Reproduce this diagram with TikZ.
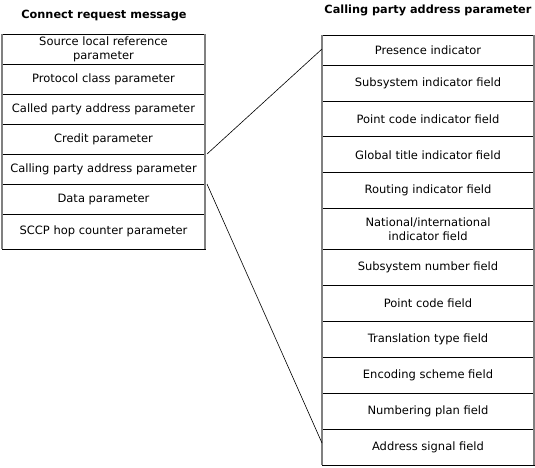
\documentclass[tikz,border=0pt]{standalone}
\usepackage{fontspec}
\setmainfont{DejaVu Sans}
\usetikzlibrary{positioning}

\begin{document}
\begin{tikzpicture}[
  x=1pt, y=-1pt,
  every node/.style={font=\fontsize{11.5}{14}\selectfont},
  cell/.style={draw=black, line width=0.7pt, minimum width=203pt,
               minimum height=30pt, inner sep=0pt, outer sep=0pt,
               align=center},
  field/.style={cell, minimum width=212pt, minimum height=35.9pt},
  heading/.style={font=\bfseries\fontsize{11.3}{13}\selectfont},
  frame/.style={draw=gray, line width=1.6pt},
  link/.style={draw=black, line width=0.6pt},
  node distance=0pt
]
\useasboundingbox (0,0) rectangle (535,467);

% connect request message
\node[heading] (msgtitle) at (104,16) {Connect request message};
\node[cell, anchor=north] (srcref) at (103.5,34)
  {Source local reference\\parameter};
\node[cell, below=of srcref] (proto) {Protocol class parameter};
\node[cell, below=of proto] (called) {Called party address parameter};
\node[cell, below=of called] (credit) {Credit parameter};
\node[cell, below=of credit] (calling) {Calling party address parameter};
\node[cell, below=of calling] (data) {Data parameter};
\node[cell, below=of data, minimum height=35pt] (hop)
  {SCCP hop counter parameter};
\draw[frame] (srcref.north west) -- (hop.south west);
\draw[frame] (srcref.north east) -- (hop.south east);

% calling party address parameter
\node[heading, anchor=east] (cgtitle) at (535,10)
  {Calling party address parameter};
\node[field, anchor=north, minimum height=30pt] (pres) at (428,35)
  {Presence indicator};
\node[field, below=of pres] (ssi) {Subsystem indicator field};
\node[field, below=of ssi] (pci) {Point code indicator field};
\node[field, below=of pci] (gti) {Global title indicator field};
\node[field, below=of gti] (route) {Routing indicator field};
\node[field, below=of route, minimum height=41pt] (natint)
  {National/international\\indicator field};
\node[field, below=of natint] (ssn) {Subsystem number field};
\node[field, below=of ssn] (pc) {Point code field};
\node[field, below=of pc] (tt) {Translation type field};
\node[field, below=of tt] (enc) {Encoding scheme field};
\node[field, below=of enc] (np) {Numbering plan field};
\node[field, below=of np] (addr) {Address signal field};
\draw[frame] (pres.north west) -- (addr.south west);
\draw[frame] (pres.north east) -- (addr.south east);

% zoom lines
\draw[link] ([xshift=2pt]calling.north east) -- ([yshift=1pt]pres.west);
\draw[link] ([xshift=2pt]calling.south east) -- ([yshift=4pt]addr.west);
\end{tikzpicture}
\end{document}
